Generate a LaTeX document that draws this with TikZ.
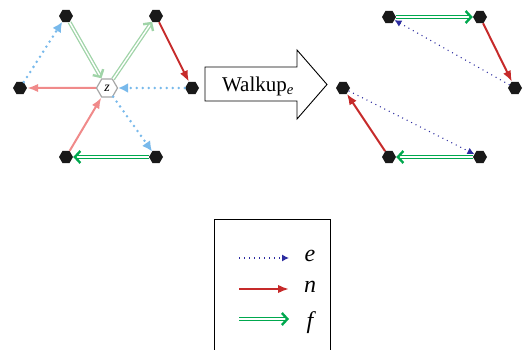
\documentclass[tikz,border=0pt]{standalone}
\usepackage{fontspec}
\setmainfont{Liberation Serif}
\usepackage{xcolor}
\usetikzlibrary{shapes.geometric, arrows.meta, positioning, calc}

\definecolor{skyblue}{RGB}{120,185,235}
\definecolor{palegreen}{RGB}{160,212,168}
\definecolor{palered}{RGB}{240,138,138}
\definecolor{deepred}{RGB}{198,42,42}
\definecolor{leafgreen}{RGB}{0,168,78}
\definecolor{navy}{RGB}{45,45,160}

\begin{document}
\begin{tikzpicture}[
    x=1pt, y=-1pt,
    vertex/.style={regular polygon, regular polygon sides=6, fill=black!90, draw=none, inner sep=0pt, minimum size=14pt},
    zhex/.style={regular polygon, regular polygon sides=6, fill=white, draw=gray!70, line width=1.2pt, inner sep=0pt, minimum size=21pt, font=\fontsize{14}{14}\selectfont\itshape},
    fedge/.style={double=white, double distance=1.4pt, line width=1.3pt, -{Straight Barb[length=5.5pt, width=12pt, line width=2.4pt]}},
    nedge/.style={line width=2pt, -{Latex[length=11pt, width=8.5pt]}},
    softdot/.style={skyblue, line width=2.8pt, line cap=round, dash pattern=on 0pt off 6pt, -{Latex[length=10pt, width=10pt]}},
    darkdot/.style={navy, line width=1.1pt, dash pattern=on 1pt off 4pt, -{Latex[length=7pt, width=7pt]}},
    legtext/.style={font=\fontsize{24}{26}\selectfont\itshape}
]
\useasboundingbox (0,0) rectangle (525,350);

% Left graph, around z
\node (u1) [vertex] at (66,16) {};
\node (u2) [vertex] at (156,16) {};
\node (u3) [vertex] at (192,88) {};
\node (u4) [vertex] at (156,157) {};
\node (u5) [vertex] at (66,157) {};
\node (u6) [vertex] at (20,88) {};
\node (z) [zhex] at (107,88) {z};

\draw [softdot] (u6) -- (u1);
\draw [fedge, palegreen] (u1) -- (z);
\draw [fedge, palegreen] (z) -- (u2);
\draw [nedge, deepred] (u2) -- (u3);
\draw [softdot] (u3) -- (z);
\draw [nedge, palered] (z) -- (u6);
\draw [nedge, palered] (u5) -- (z);
\draw [softdot] (z) -- (u4);
\draw [fedge, leafgreen] (u4) -- (u5);

% Walkup arrow
\draw [line width=0.9pt] (205,67) -- (297,67) -- (297,50) -- (327,84.5)
    -- (297,119) -- (297,101) -- (205,101) -- cycle;
\node (walk) at (258,86) {\fontsize{21}{24}\selectfont Walkup\textsubscript{\textit{e}}};

% Right graph, after the walk
\node (v1) [vertex] at (389,17) {};
\node (v2) [vertex] at (480,17) {};
\node (v3) [vertex] at (515,88) {};
\node (v4) [vertex] at (480,157) {};
\node (v5) [vertex] at (389,157) {};
\node (v6) [vertex] at (343,88) {};

\draw [fedge, leafgreen] (v1) -- (v2);
\draw [nedge, deepred] (v2) -- (v3);
\draw [darkdot] (v3) -- (v1);
\draw [darkdot] (v6) -- (v4);
\draw [fedge, leafgreen] (v4) -- (v5);
\draw [nedge, deepred] (v5) -- (v6);

% Legend
\draw [line width=0.9pt] (214,219) rectangle (330,360);
\coordinate (e0) at (239,258);
\coordinate (e1) at (289,258);
\node (elab) [legtext] at (310,256) {e};
\draw [darkdot] (e0) -- (e1);
\coordinate (n0) at (239,289);
\coordinate (n1) at (289,289);
\node (nlab) [legtext] at (310,287) {n};
\draw [nedge, deepred] (n0) -- (n1);
\coordinate (f0) at (239,319);
\coordinate (f1) at (289,319);
\node (flab) [legtext] at (310,323) {f};
\draw [fedge, leafgreen] (f0) -- (f1);

\end{tikzpicture}
\end{document}
